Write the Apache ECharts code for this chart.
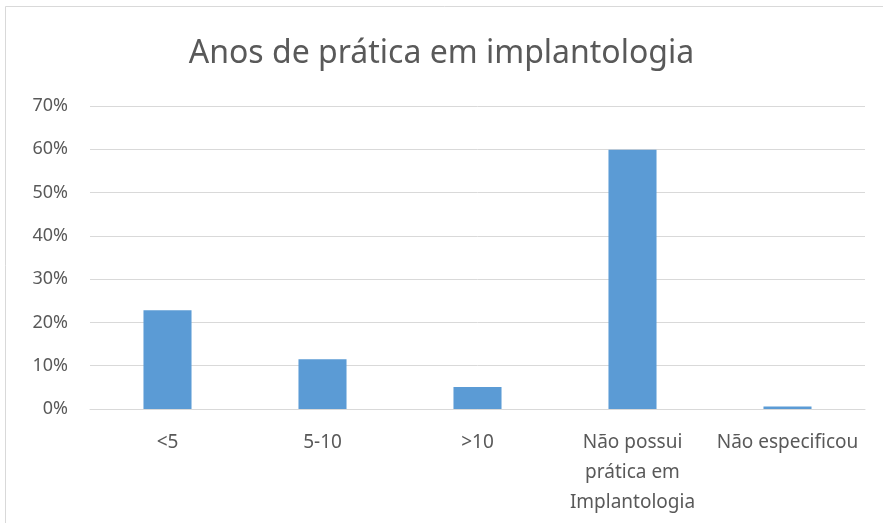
<!DOCTYPE html>
<html>
<head>
<meta charset="utf-8">
<script src="https://cdn.jsdelivr.net/npm/echarts@6/dist/echarts.min.js"></script>
<style>html,body{margin:0;padding:0;background:#fff}#c{width:883px;height:523px}</style>
</head>
<body>
<div id="c"></div>
<script>
var titleText = 'Anos de prática em implantologia';
var categories = ['<5', '5-10', '>10', 'Não possui\nprática em\nImplantologia', 'Não especificou'];
var values = [22.8, 11.5, 5.1, 59.9, 0.6];
var yMin = 0, yMax = 70, yStep = 10;

var FONT = '"Noto Sans", sans-serif';
var chart = echarts.init(document.getElementById('c'));
chart.setOption({
  animation: false,
  backgroundColor: '#fff',
  graphic: [{
    type: 'rect', shape: {x: 5.5, y: 6.5, width: 900, height: 600},
    style: {fill: 'none', stroke: '#d9d9d9', lineWidth: 1}, silent: true
  }],
  title: {
    text: titleText, left: 'center', top: 33,
    textStyle: {fontFamily: FONT, fontWeight: 'normal', fontSize: 32, color: '#595959'}
  },
  grid: {left: 90, right: 18, top: 106, bottom: 114, containLabel: false},
  xAxis: {
    type: 'category', data: categories,
    axisLine: {lineStyle: {color: '#d9d9d9', width: 1}},
    axisTick: {show: false},
    axisLabel: {fontFamily: FONT, fontSize: 19, color: '#595959', margin: 19, lineHeight: 30, interval: 0}
  },
  yAxis: {
    type: 'value', min: yMin, max: yMax, interval: yStep,
    axisLine: {show: false}, axisTick: {show: false},
    splitLine: {lineStyle: {color: '#d9d9d9', width: 1}},
    axisLabel: {fontFamily: FONT, fontSize: 18, color: '#595959', margin: 22, formatter: '{value}%'}
  },
  series: [{
    type: 'bar', data: values, barWidth: '31%',
    itemStyle: {color: '#5b9bd5'}
  }]
});
</script>
</body>
</html>
